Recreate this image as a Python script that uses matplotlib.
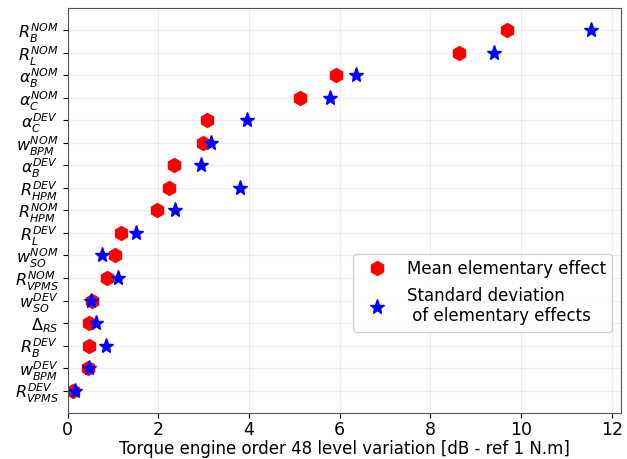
"""
Elementary effects (Morris screening) of the torque engine order 48
"""

import matplotlib
matplotlib.use("Agg")
import matplotlib.pyplot as plt
import numpy as np


# parameters, top to bottom as shown
param_labels = [
    r"$R_B^{NOM}$", r"$R_L^{NOM}$", r"$\alpha_B^{NOM}$", r"$\alpha_C^{NOM}$",
    r"$\alpha_C^{DEV}$", r"$w_{BPM}^{NOM}$", r"$\alpha_B^{DEV}$",
    r"$R_{HPM}^{DEV}$", r"$R_{HPM}^{NOM}$", r"$R_L^{DEV}$", r"$w_{SO}^{NOM}$",
    r"$R_{VPMS}^{NOM}$", r"$w_{SO}^{DEV}$", r"$\Delta_{RS}$", r"$R_B^{DEV}$",
    r"$w_{BPM}^{DEV}$", r"$R_{VPMS}^{DEV}$",
]

mean_effect = [9.68, 8.63, 5.91, 5.12, 3.07, 2.98, 2.34, 2.23, 1.96,
               1.17, 1.04, 0.86, 0.53, 0.46, 0.48, 0.44, 0.11]

std_effect = [11.54, 9.40, 6.35, 5.78, 3.95, 3.15, 2.93, 3.79, 2.36,
              1.50, 0.75, 1.10, 0.51, 0.62, 0.84, 0.46, 0.15]


fig = plt.figure(figsize=(6.27, 4.59), dpi=100)
ax = fig.add_axes([0.108, 0.100, 0.882, 0.883])

y = np.arange(len(param_labels))[::-1]

ax.plot(mean_effect, y, "h", color="red", markersize=10, linestyle="none",
        label="Mean elementary effect")
ax.plot(std_effect, y, "*", color="blue", markersize=11, linestyle="none",
        label="Standard deviation\n of elementary effects")

ax.set_yticks(y)
ax.set_yticklabels(param_labels, fontsize=11.5)
ax.set_ylim(-1, len(param_labels))
ax.set_xlim(0, 12.2)
ax.set_xticks(np.arange(0, 13, 2))
ax.tick_params(axis="x", labelsize=12.5, pad=2)
ax.tick_params(axis="y", pad=3)
ax.set_xlabel("Torque engine order 48 level variation [dB - ref 1 N.m]",
              fontsize=12, labelpad=1)

ax.grid(alpha=0.25, color="#bbbbbb", linewidth=0.8)
for sp in ax.spines.values():
    sp.set_color("#555555")

ax.legend(loc="lower right", bbox_to_anchor=(0.985, 0.2), fontsize=12,
          framealpha=0.9, borderaxespad=0)

fig.savefig("out.png", dpi=100)
